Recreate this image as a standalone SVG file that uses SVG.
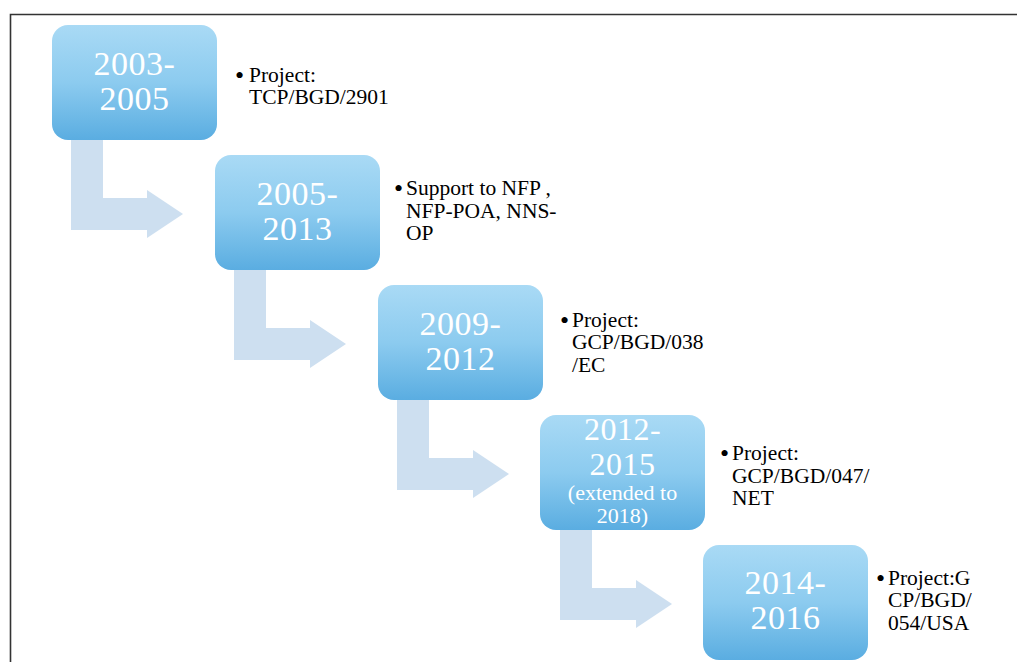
<svg xmlns="http://www.w3.org/2000/svg" width="1017" height="662" viewBox="0 0 1017 662">
<defs>
<linearGradient id="bg" x1="0" y1="0" x2="0" y2="1">
<stop offset="0" stop-color="#a9daf5"/>
<stop offset="0.5" stop-color="#8ccbef"/>
<stop offset="1" stop-color="#5aade1"/>
</linearGradient>
</defs>
<style>
.frame{fill:none;stroke:#333;stroke-width:1.6}
.arrow{fill:#cddff0}
.box{fill:url(#bg)}
.yr{font-family:"Liberation Serif",serif;font-size:34px;letter-spacing:0.5px;fill:#fff;text-anchor:middle}
.yrm{font-family:"Liberation Serif",serif;font-size:32px;letter-spacing:0.5px;fill:#fff;text-anchor:middle}
.yrs{font-family:"Liberation Serif",serif;font-size:22px;fill:#fff;text-anchor:middle}
.lbl{font-family:"Liberation Serif",serif;font-size:21.5px;fill:#000}
.bul{font-family:"Liberation Serif",serif;font-size:26px;fill:#000}
</style>
<rect width="1017" height="662" fill="#fff"/>
<path class="frame" d="M10.5,662 L10.5,14.5 L1017,14.5"/>
<g id="connectors">
<path class="arrow" d="M71,135 L103,135 L103,198 L147,198 L147,190 L183,214 L147,238 L147,230 L71,230 Z"/>
<path class="arrow" transform="translate(163,130)" d="M71,135 L103,135 L103,198 L147,198 L147,190 L183,214 L147,238 L147,230 L71,230 Z"/>
<path class="arrow" transform="translate(326,260)" d="M71,135 L103,135 L103,198 L147,198 L147,190 L183,214 L147,238 L147,230 L71,230 Z"/>
<path class="arrow" transform="translate(489,390)" d="M71,135 L103,135 L103,198 L147,198 L147,190 L183,214 L147,238 L147,230 L71,230 Z"/>
</g>
<g id="node1">
<rect class="box" x="52" y="25" width="165" height="115" rx="16"/>
<text class="yr" x="134.5" y="75">2003-</text>
<text class="yr" x="134.5" y="110">2005</text>
<text class="bul" x="235" y="84">•</text>
<text class="lbl" x="249" y="82">Project:</text>
<text class="lbl" x="249" y="104">TCP/BGD/2901</text>
</g>
<g id="node2">
<rect class="box" x="215" y="155" width="165" height="115" rx="16"/>
<text class="yr" x="297.5" y="205">2005-</text>
<text class="yr" x="297.5" y="240">2013</text>
<text class="bul" x="394" y="197">•</text>
<text class="lbl" x="406" y="195">Support to NFP ,</text>
<text class="lbl" x="406" y="218">NFP-POA, NNS-</text>
<text class="lbl" x="406" y="240">OP</text>
</g>
<g id="node3">
<rect class="box" x="378" y="285" width="165" height="115" rx="16"/>
<text class="yr" x="460.5" y="335">2009-</text>
<text class="yr" x="460.5" y="370">2012</text>
<text class="bul" x="560" y="329">•</text>
<text class="lbl" x="572" y="327">Project:</text>
<text class="lbl" x="572" y="349">GCP/BGD/038</text>
<text class="lbl" x="572" y="372">/EC</text>
</g>
<g id="node4">
<rect class="box" x="540" y="415" width="165" height="115" rx="16"/>
<text class="yrm" x="622.5" y="440">2012-</text>
<text class="yrm" x="622.5" y="475">2015</text>
<text class="yrs" x="622.5" y="500">(extended to</text>
<text class="yrs" x="622.5" y="523">2018)</text>
<text class="bul" x="720" y="462">•</text>
<text class="lbl" x="732" y="460">Project:</text>
<text class="lbl" x="732" y="483">GCP/BGD/047/</text>
<text class="lbl" x="732" y="505">NET</text>
</g>
<g id="node5">
<rect class="box" x="703" y="545" width="165" height="115" rx="16"/>
<text class="yr" x="785.5" y="594">2014-</text>
<text class="yr" x="785.5" y="629">2016</text>
<text class="bul" x="876" y="587">•</text>
<text class="lbl" x="888" y="585">Project:G</text>
<text class="lbl" x="888" y="607">CP/BGD/</text>
<text class="lbl" x="888" y="630">054/USA</text>
</g>
</svg>
